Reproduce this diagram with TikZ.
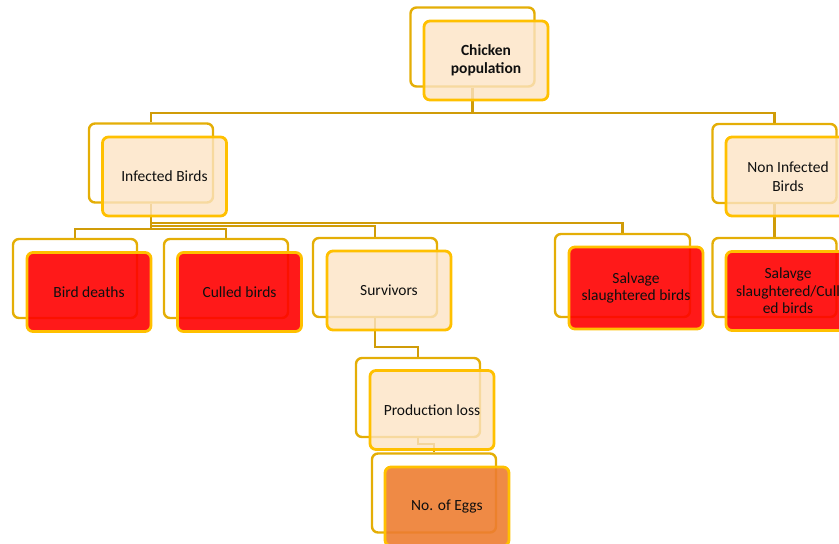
\documentclass[tikz,border=0pt]{standalone}
\usepackage{fontspec}
\setmainfont{Carlito}
\usetikzlibrary{backgrounds}
\definecolor{linkgold}{RGB}{208,156,8}
\definecolor{backgold}{RGB}{228,174,6}
\definecolor{frontgold}{RGB}{255,192,0}
\definecolor{peach}{RGB}{252,228,196}
\definecolor{boxred}{RGB}{255,0,0}
\definecolor{boxorange}{RGB}{237,125,49}
\definecolor{txtgray}{RGB}{15,15,15}

\begin{document}
\begin{tikzpicture}[x=1pt, y=-1pt,
    backbox/.style={draw=backgold, line width=2.4pt, rounded corners=6pt,
      minimum width=124pt, minimum height=79pt, inner sep=0pt},
    frontbox/.style={backbox, draw=frontgold, line width=2.8pt, fill=peach,
      fill opacity=0.8, text opacity=1, text=txtgray, align=center,
      font=\fontsize{15.5}{18.5}\selectfont},
    hotbox/.style={frontbox, fill=boxred, fill opacity=0.9},
    link/.style={draw=linkgold, line width=2.4pt}]
    \useasboundingbox (0,0) rectangle (839,544);
    % back outlines
    \node [backbox] (chickenB) at (472.5,47) {};
    \node [backbox] (infB) at (151,163) {};
    \node [backbox] (noninfB) at (774.5,163.5) {};
    \node [backbox] (deathB) at (75,278.5) {};
    \node [backbox] (culledB) at (226,278.5) {};
    \node [backbox] (survB) at (375,277.5) {};
    \node [backbox, minimum width=135pt, minimum height=83pt] (salvB) at (622.5,275.5) {};
    \node [backbox] (salvcB) at (774.5,277.5) {};
    \node [backbox] (prodB) at (418,397.5) {};
    \node [backbox] (eggsB) at (434,493) {};
    % front boxes
    \node [frontbox, font=\fontsize{15.5}{17.5}\selectfont\bfseries] (chicken) at (486,60.5) {Chicken\\population};
    \node [frontbox] (infected) at (164.5,176.5) {Infected Birds};
    \node [frontbox] (noninf) at (788,176.5) {Non Infected\\Birds};
    \node [hotbox] (deaths) at (89,292) {Bird deaths};
    \node [hotbox] (culled) at (239.5,292) {Culled birds};
    \node [frontbox] (survivors) at (389,290.5) {Survivors};
    \node [hotbox, minimum width=134pt, minimum height=82pt, font=\fontsize{15.5}{17.5}\selectfont] (salvage) at (636,288) {Salvage\\slaughtered birds};
    \node [hotbox, font=\fontsize{15.5}{17.5}\selectfont] (salvculled) at (788,291) {Salavge\\slaughtered/Cull\\ed birds};
    \node [frontbox] (prodloss) at (432,410) {Production loss};
    \node [hotbox, fill=boxorange] (eggs) at (447,506.5) {No. of Eggs};
    % connectors
    \begin{scope}[on background layer]
      \draw [link] (chickenB.south) -- ++(0,25.5) -| (infB.north);
      \draw [link] (chickenB.south) -- ++(0,25.5) -| (noninfB.north);
      \draw [link] (infB.south) -- ++(0,25.5) -| (deathB.north);
      \draw [link] (infB.south) -- ++(0,25.5) -| (culledB.north);
      \draw [link] (infB.south) -- ++(0,22.5) -| (survB.north);
      \draw [link] (infB.south) -- ++(0,19.5) -| (salvB.north);
      \draw [link] (noninfB.south) -- (salvcB.north);
      \draw [link] (survB.south) -- ++(0,29) -| (prodB.north);
      \draw [link] (prodB.south) -- ++(0,6) -| (eggsB.north);
    \end{scope}
  \end{tikzpicture}
\end{document}
